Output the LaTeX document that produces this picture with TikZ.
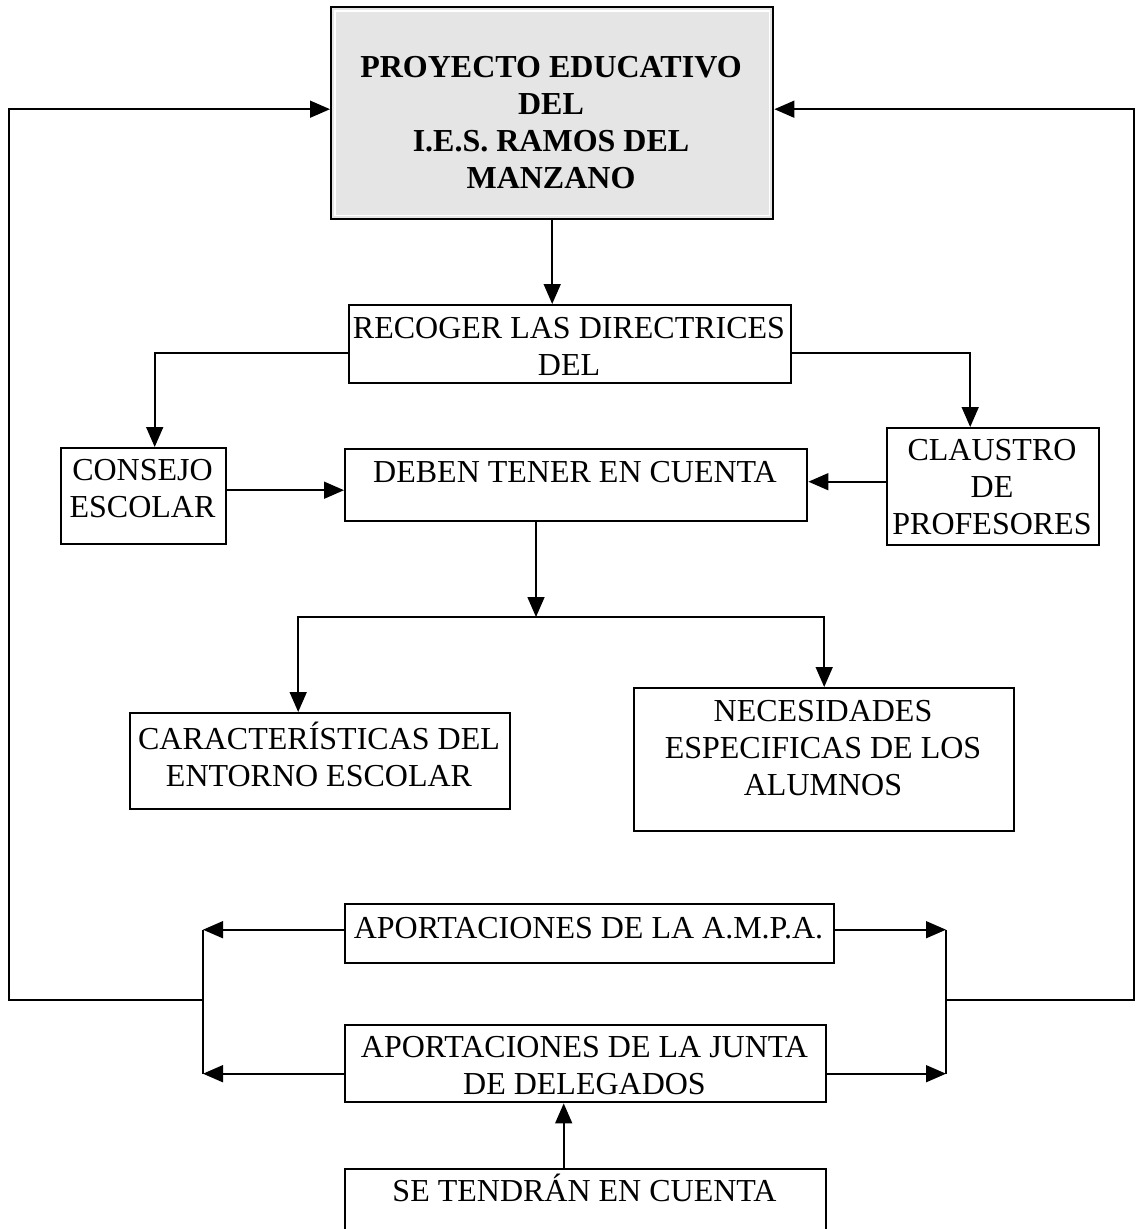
\documentclass[tikz,border=0pt]{standalone}
\usepackage{fontspec}
\setmainfont{Liberation Serif}
\usetikzlibrary{arrows.meta}

\tikzset{
  frame/.style={draw, line width=2.4pt, inner sep=0pt, anchor=north west},
  words/.style={align=center, inner sep=0pt, font=\fontsize{32}{37}\selectfont},
  heavy/.style={words, font=\fontsize{32}{37}\selectfont\bfseries},
  link/.style={line width=1.6pt},
  >={Triangle[length=20pt,width=17pt]}
}

\begin{document}
\begin{tikzpicture}[x=1pt, y=-1pt]
  \path[use as bounding box, clip] (0,0) rectangle (1136,1229);

  % frames
  \node[frame, fill=gray!20, minimum width=442pt, minimum height=212pt] (proyecto) at (330,6) {};
  \draw[white, line width=1.5pt] ([shift={(5pt,-5pt)}]proyecto.north west) rectangle ([shift={(-5pt,5pt)}]proyecto.south east);
  \node[frame, minimum width=442pt, minimum height=78pt]  (recoger)  at (348,304)  {};
  \node[frame, minimum width=165pt, minimum height=96pt]  (consejo)  at (60,447)   {};
  \node[frame, minimum width=462pt, minimum height=72pt]  (deben)    at (344,448)  {};
  \node[frame, minimum width=212pt, minimum height=117pt] (claustro) at (886,427)  {};
  \node[frame, minimum width=380pt, minimum height=96pt]  (entorno)  at (129,712)  {};
  \node[frame, minimum width=380pt, minimum height=143pt] (alumnos)  at (633,687)  {};
  \node[frame, minimum width=489pt, minimum height=59pt]  (ampa)     at (344,903)  {};
  \node[frame, minimum width=481pt, minimum height=77pt]  (junta)    at (344,1024) {};
  \node[frame, minimum width=481pt, minimum height=95pt]  (tendran)  at (344,1168) {};

  % texts
  \node[heavy] (proyecto-t) at (551,123) {PROYECTO EDUCATIVO\\DEL\\I.E.S. RAMOS DEL\\MANZANO};
  \node[words] (recoger-t)  at (569,346.5) {RECOGER LAS DIRECTRICES\\DEL};
  \node[words] (consejo-t)  at (142.5,488.5) {CONSEJO\\ESCOLAR};
  \node[words] (deben-t)    at (575,472)   {DEBEN TENER EN CUENTA};
  \node[words] (claustro-t) at (992,487)   {CLAUSTRO\\DE\\PROFESORES};
  \node[words] (entorno-t)  at (319,754)   {CARACTERÍSTICAS DEL\\ENTORNO ESCOLAR};
  \node[words] (alumnos-t)  at (823,748.5) {NECESIDADES\\ESPECIFICAS DE LOS\\ALUMNOS};
  \node[words] (ampa-t)     at (588.5,928) {APORTACIONES DE LA A.M.P.A.};
  \node[words] (junta-t)    at (584.5,1065.5) {APORTACIONES DE LA JUNTA\\DE DELEGADOS};
  \node[words] (tendran-t)  at (584.5,1188) {SE TENDRÁN EN CUENTA};

  % bends of the feedback lines
  \coordinate (lbus)  at (203,1000);
  \coordinate (rbus)  at (946,1000);
  \coordinate (ledge) at (9,1000);
  \coordinate (redge) at (1134,1000);
  \coordinate (split) at (536,617);

  % connectors
  \draw[link,->] (proyecto.south) -- (proyecto.south |- recoger.north);
  \draw[link,->] ([yshift=-9pt]recoger.west) -| ([xshift=11pt]consejo.north);
  \draw[link,->] ([yshift=-9pt]recoger.east) -| ([xshift=-23pt]claustro.north);
  \draw[link,->] ([yshift=6pt]consejo.east) -- ([yshift=6pt]consejo.east -| deben.west);
  \draw[link,->] ([yshift=5pt]claustro.west) -- ([yshift=5pt]claustro.west -| deben.east);
  \draw[link,->] (split |- deben.south) -- (split);
  \draw[link,->] (split) -| ([xshift=-22pt]entorno.north);
  \draw[link,->] (split) -| (alumnos.north);

  \draw[link,->] ([yshift=4pt]ampa.west) -- ([yshift=4pt]ampa.west -| lbus);
  \draw[link,->] ([yshift=4pt]ampa.east) -- ([yshift=4pt]ampa.east -| rbus);
  \draw[link,->] ([yshift=-10pt]junta.west) -- ([yshift=-10pt]junta.west -| lbus);
  \draw[link,->] ([yshift=-10pt]junta.east) -- ([yshift=-10pt]junta.east -| rbus);
  \draw[link] ([yshift=4pt]ampa.west -| lbus) -- ([yshift=-10pt]junta.west -| lbus);
  \draw[link] ([yshift=4pt]ampa.east -| rbus) -- ([yshift=-10pt]junta.east -| rbus);
  \draw[link,->] (lbus) -- (ledge) |- ([yshift=4pt]proyecto.west);
  \draw[link,->] (rbus) -- (redge) |- ([yshift=4pt]proyecto.east);

  \draw[link,->] ([xshift=-22pt]tendran.north) -- ([xshift=-22pt]junta.south);
\end{tikzpicture}
\end{document}
